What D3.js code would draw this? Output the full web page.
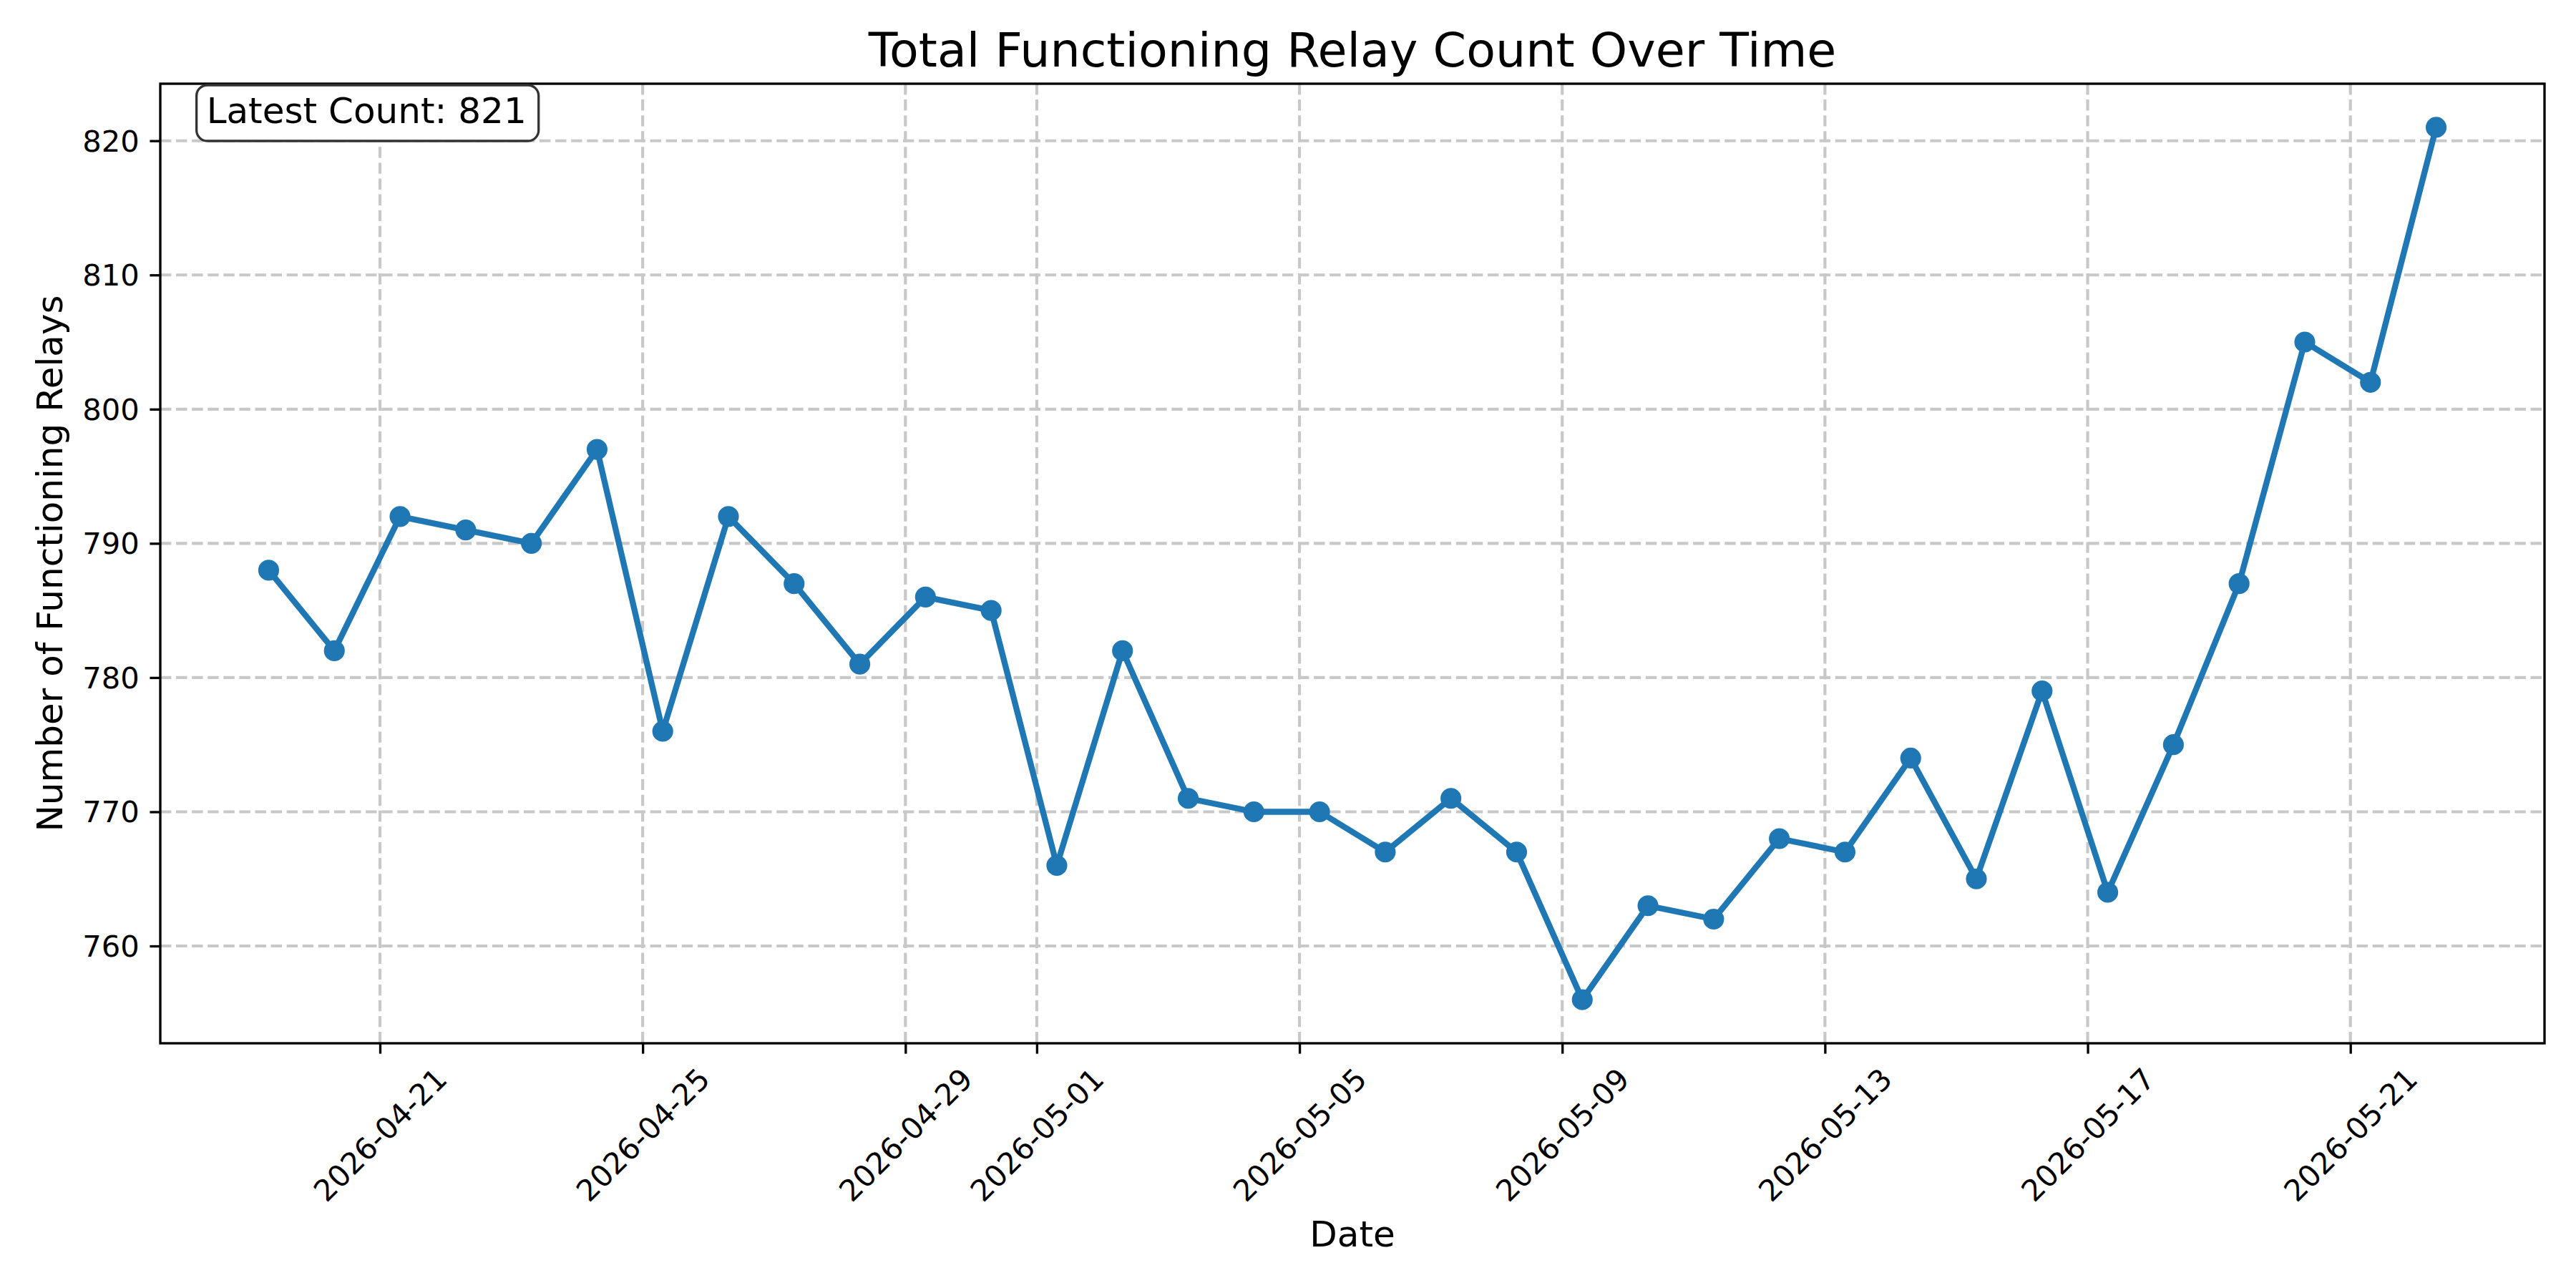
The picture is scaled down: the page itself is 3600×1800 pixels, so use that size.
<!DOCTYPE html>
<html>
<head>
<meta charset="utf-8">
<script src="https://cdn.jsdelivr.net/npm/d3@7"></script>
<style>
  body { margin: 0; background: #fff; }
  svg { display: block; }
  text { font-family: "DejaVu Sans", sans-serif; fill: #000; }
</style>
</head>
<body>
<div class="wrapper"></div>
<script>
// Daily samples (taken around 07:20 each morning)
var dates = [
  "2026-04-19", "2026-04-20", "2026-04-21", "2026-04-22", "2026-04-23", "2026-04-24",
  "2026-04-25", "2026-04-26", "2026-04-27", "2026-04-28", "2026-04-29", "2026-04-30",
  "2026-05-01", "2026-05-02", "2026-05-03", "2026-05-04", "2026-05-05", "2026-05-06",
  "2026-05-07", "2026-05-08", "2026-05-09", "2026-05-10", "2026-05-11", "2026-05-12",
  "2026-05-13", "2026-05-14", "2026-05-15", "2026-05-16", "2026-05-17", "2026-05-18",
  "2026-05-19", "2026-05-20", "2026-05-21", "2026-05-22"
];
var sampleTime = "07:20";
var relayCounts = [
  788, 782, 792, 791, 790, 797, 776, 792, 787, 781, 786, 785,
  766, 782, 771, 770, 770, 767, 771, 767, 756, 763, 762, 768,
  767, 774, 765, 779, 764, 775, 787, 805, 802, 821
];
var xTickLabels = [
  "2026-04-21", "2026-04-25", "2026-04-29", "2026-05-01", "2026-05-05",
  "2026-05-09", "2026-05-13", "2026-05-17", "2026-05-21"
];
var yTickValues = [760, 770, 780, 790, 800, 810, 820];

var titleText = "Total Functioning Relay Count Over Time";
var xLabelText = "Date";
var yLabelText = "Number of Functioning Relays";

var width = 3600,
  height = 1800,
  margin = { top: 117, right: 44, bottom: 342, left: 224 },
  pt = 300 / 72,
  lineColor = "#1f77b4",
  gridColor = "#c8c8c8";

var svg, g, xScale, yScale, points;

var parseTime = d3.utcParse("%Y-%m-%d %H:%M");
var parseDay = d3.utcParse("%Y-%m-%d");

/**
 * Builds the svg and every piece of the chart.
 */
function initChart() {
  var innerW = width - margin.left - margin.right;
  var innerH = height - margin.top - margin.bottom;

  svg = d3.select(".wrapper").append("svg")
    .attr("width", width)
    .attr("height", height);
  svg.append("rect").attr("width", width).attr("height", height).attr("fill", "#fff");

  g = svg.append("g").attr("transform", `translate(${margin.left},${margin.top})`);

  points = dates.map((d, i) => ({ date: parseTime(d + " " + sampleTime), value: relayCounts[i] }));

  // matplotlib style 5% padding on both axes
  var xExt = d3.extent(points, d => d.date);
  var xPad = (xExt[1] - xExt[0]) * 0.05;
  xScale = d3.scaleUtc()
    .domain([new Date(+xExt[0] - xPad), new Date(+xExt[1] + xPad)])
    .range([0, innerW]);

  var yExt = d3.extent(points, d => d.value);
  var yPad = (yExt[1] - yExt[0]) * 0.05;
  yScale = d3.scaleLinear()
    .domain([yExt[0] - yPad, yExt[1] + yPad])
    .range([innerH, 0]);

  var xTicks = xTickLabels.map(t => parseDay(t));

  // Grid lines, dashed and below the data
  var grid = g.append("g").classed("grid", true);
  grid.selectAll(".vgrid").data(xTicks).enter().append("line")
    .attr("x1", d => xScale(d)).attr("x2", d => xScale(d))
    .attr("y1", 0).attr("y2", innerH);
  grid.selectAll(".hgrid").data(yTickValues).enter().append("line")
    .attr("x1", 0).attr("x2", innerW)
    .attr("y1", d => yScale(d)).attr("y2", d => yScale(d));
  grid.selectAll("line")
    .attr("stroke", gridColor)
    .attr("stroke-width", pt)
    .attr("stroke-dasharray", `${3.7 * pt} ${1.6 * pt}`);

  // The line and its markers
  var line = d3.line().x(d => xScale(d.date)).y(d => yScale(d.value));
  g.append("path")
    .datum(points)
    .attr("fill", "none")
    .attr("stroke", lineColor)
    .attr("stroke-width", 2 * pt)
    .attr("stroke-linejoin", "round")
    .attr("stroke-linecap", "square")
    .attr("d", line);

  g.selectAll(".marker").data(points).enter().append("circle")
    .attr("class", "marker")
    .attr("cx", d => xScale(d.date))
    .attr("cy", d => yScale(d.value))
    .attr("r", 3 * pt)
    .attr("fill", lineColor)
    .attr("stroke", lineColor)
    .attr("stroke-width", pt);

  // Axes
  var xAxis = d3.axisBottom(xScale)
    .tickValues(xTicks)
    .tickFormat(d3.utcFormat("%Y-%m-%d"))
    .tickSize(3.5 * pt)
    .tickSizeOuter(0);
  var xAxisG = g.append("g")
    .attr("transform", `translate(0,${innerH})`)
    .call(xAxis);
  xAxisG.select(".domain").remove();
  xAxisG.selectAll(".tick line").attr("stroke", "#000").attr("stroke-width", 0.8 * pt);
  xAxisG.selectAll(".tick text")
    .attr("y", null)
    .attr("dy", null)
    .attr("text-anchor", "middle")
    .attr("dominant-baseline", "central")
    .attr("transform", "translate(0,128) rotate(-45)")
    .style("font-size", `${10 * pt}px`)
    .style("font-family", "DejaVu Sans");

  var yAxis = d3.axisLeft(yScale)
    .tickValues(yTickValues)
    .tickSize(3.5 * pt)
    .tickPadding(3.5 * pt)
    .tickSizeOuter(0);
  var yAxisG = g.append("g").call(yAxis);
  yAxisG.select(".domain").remove();
  yAxisG.selectAll(".tick line").attr("stroke", "#000").attr("stroke-width", 0.8 * pt);
  yAxisG.selectAll(".tick text")
    .attr("dy", null)
    .attr("dominant-baseline", "central")
    .style("font-size", `${10 * pt}px`)
    .style("font-family", "DejaVu Sans");

  // Spines on top of everything in the axes
  g.append("rect")
    .attr("width", innerW)
    .attr("height", innerH)
    .attr("fill", "none")
    .attr("stroke", "#000")
    .attr("stroke-width", 0.8 * pt);

  // Title and axis labels
  svg.append("text")
    .attr("x", margin.left + innerW / 2)
    .attr("y", margin.top - 24)
    .attr("text-anchor", "middle")
    .style("font-size", `${16 * pt}px`)
    .text(titleText);

  svg.append("text")
    .attr("x", margin.left + innerW / 2)
    .attr("y", 1742)
    .attr("text-anchor", "middle")
    .style("font-size", `${12 * pt}px`)
    .text(xLabelText);

  svg.append("text")
    .attr("transform", `translate(87,${margin.top + innerH / 2}) rotate(-90)`)
    .attr("text-anchor", "middle")
    .style("font-size", `${12 * pt}px`)
    .text(yLabelText);

  drawLatestBox(innerW);
}

/**
 * The rounded "Latest Count" box in the upper-left corner.
 */
function drawLatestBox(innerW) {
  var boxG = g.append("g").classed("latest-box", true);
  var tx = innerW * 0.02 - 2,
    baseline = 55;
  var rect = boxG.append("rect");
  var label = boxG.append("text")
    .attr("x", tx)
    .attr("y", baseline)
    .style("font-size", `${12 * pt}px`)
    .text(`Latest Count: ${relayCounts[relayCounts.length - 1]}`);
  var textW = label.node().getComputedTextLength();
  rect
    .attr("x", tx - 14)
    .attr("y", baseline - 53)
    .attr("width", textW + 31)
    .attr("height", 78)
    .attr("rx", 15)
    .attr("ry", 15)
    .attr("fill", "#fff")
    .attr("stroke", "#333")
    .attr("stroke-width", 3.3);
}

initChart();
</script>
</body>
</html>
